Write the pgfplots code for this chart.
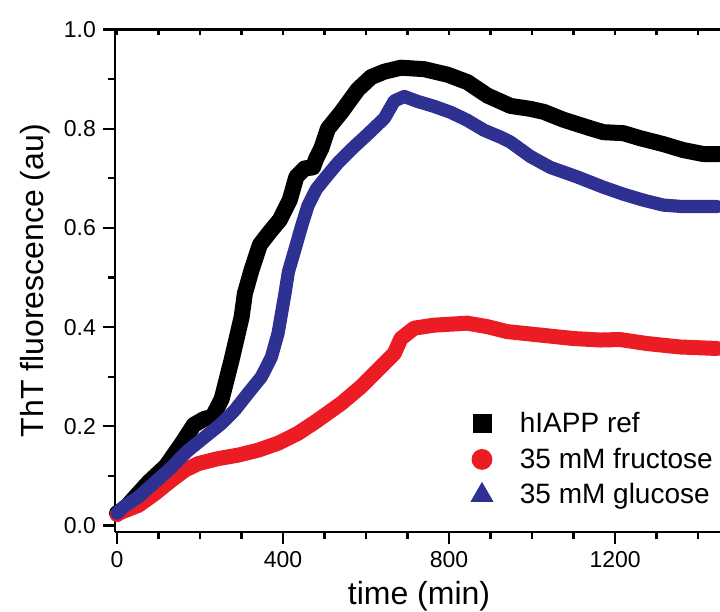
\documentclass[border=0pt]{standalone}
\usepackage{fontspec}
\setmainfont{Liberation Sans}
\usepackage{pgfplots}
\pgfplotsset{compat=1.18}
\definecolor{myred}{HTML}{EC1C24}
\definecolor{myblue}{HTML}{2E3192}

\begin{document}
\begin{tikzpicture}
\begin{axis}[name=main, scale only axis, width=304pt, height=251.25pt,
  xmin=-5, xmax=1460, ymin=-0.013, ymax=1.0,
  axis x line*=bottom, axis y line*=left,
  axis line style={line width=1.2pt},
  every tick/.style={black, line width=1.1pt},
  tick align=outside,
  major tick length=6pt, minor tick length=3.5pt,
  xtick={0,400,800,1200}, minor xtick={100,200,300,500,600,700,900,1000,1100,1300,1400},
  ytick={0,0.2,0.4,0.6,0.8,1.0}, minor ytick={0.1,0.3,0.5,0.7,0.9},
  tick label style={font=\fontsize{11.5}{13}\selectfont},
  /pgf/number format/assume math mode=true,
  scaled x ticks=false,
  xticklabel style={/pgf/number format/1000 sep={}},
  yticklabel style={/pgf/number format/.cd, fixed, fixed zerofill, precision=1},
  xlabel={time (min)}, ylabel={ThT fluorescence (au)},
  label style={font=\fontsize{16}{19}\selectfont},
  clip=false,
  legend style={at={(axis cs:852,0.238)}, anchor=north west, draw=none, fill=none,
    font=\fontsize{14}{16}\selectfont, row sep=2.3pt, inner sep=0pt,
    /tikz/every odd column/.append style={column sep=11.5pt}},
  legend cell align=left,
]
\addplot[black, line width=8pt, line join=round, line cap=round, forget plot] coordinates {
(0,0.025) (20,0.035) (41,0.055) (77,0.088) (118,0.12) (158,0.168) (185,0.203)
(210,0.215) (230,0.219) (252,0.255) (276,0.334) (290,0.384) (300,0.42) (308,0.468)
(324,0.515) (344,0.566) (368,0.592) (392,0.616) (416,0.656) (432,0.703) (452,0.720)
(472,0.722) (480,0.74) (492,0.76) (508,0.80) (540,0.833) (580,0.879) (612,0.904)
(644,0.915) (684,0.923) (740,0.920) (796,0.909) (844,0.894) (892,0.867) (924,0.855)
(948,0.846) (996,0.840) (1028,0.834) (1076,0.818) (1140,0.801) (1172,0.793)
(1220,0.791) (1260,0.781) (1316,0.769) (1364,0.757) (1412,0.749) (1450,0.749)
};
\addplot[myred, line width=7.5pt, line join=round, line cap=round, forget plot] coordinates {
(0,0.022) (4,0.025) (52,0.041) (92,0.065) (132,0.092) (164,0.112) (196,0.125)
(244,0.135) (292,0.142) (340,0.152) (388,0.166) (436,0.186) (476,0.208) (540,0.246)
(588,0.280) (636,0.320) (668,0.347) (684,0.377) (716,0.398) (764,0.404) (844,0.408)
(892,0.401) (940,0.391) (1020,0.384) (1100,0.377) (1164,0.374) (1212,0.375)
(1276,0.367) (1356,0.360) (1445,0.357)
};
\addplot[myblue, line width=6.6pt, line join=round, line cap=round, forget plot] coordinates {
(0,0.025) (16,0.038) (52,0.058) (88,0.085) (128,0.115) (168,0.149) (212,0.179)
(252,0.206) (284,0.233) (316,0.267) (348,0.300) (372,0.340) (388,0.388) (404,0.465)
(413,0.512) (428,0.555) (444,0.602) (460,0.645) (480,0.678) (504,0.703) (532,0.731)
(564,0.758) (604,0.789) (644,0.821) (668,0.856) (692,0.865) (724,0.855) (764,0.845)
(804,0.833) (844,0.817) (884,0.797) (924,0.783) (948,0.773) (996,0.744) (1044,0.722)
(1108,0.703) (1172,0.682) (1220,0.668) (1268,0.656) (1316,0.646) (1364,0.643)
(1412,0.643) (1445,0.643)
};
\addlegendimage{only marks, mark=square*, mark size=4.5pt, black}
\addlegendentry{hIAPP ref}
\addlegendimage{only marks, mark=*, mark size=5pt, myred}
\addlegendentry{35 mM fructose}
\addlegendimage{only marks, mark=triangle*, mark size=6.3pt, myblue}
\addlegendentry{35 mM glucose}
\end{axis}
\begin{axis}[scale only axis, width=304pt, height=251.25pt,
  xmin=-5, xmax=1460, ymin=-0.013, ymax=1.0,
  axis x line*=top, axis y line=none,
  axis line style={line width=1.2pt},
  every tick/.style={black, line width=1.1pt},
  tick align=inside, major tick length=3pt, minor tick length=3pt,
  xtick={0,400,800,1200}, minor xtick={100,200,300,500,600,700,900,1000,1100,1300,1400},
  xticklabels={}, ytick=\empty,
]
\end{axis}
\pgfresetboundingbox
\path[use as bounding box] ([shift={(-57.5pt,-40pt)}]main.south west) rectangle ++(360pt,306pt);
\end{tikzpicture}
\end{document}
